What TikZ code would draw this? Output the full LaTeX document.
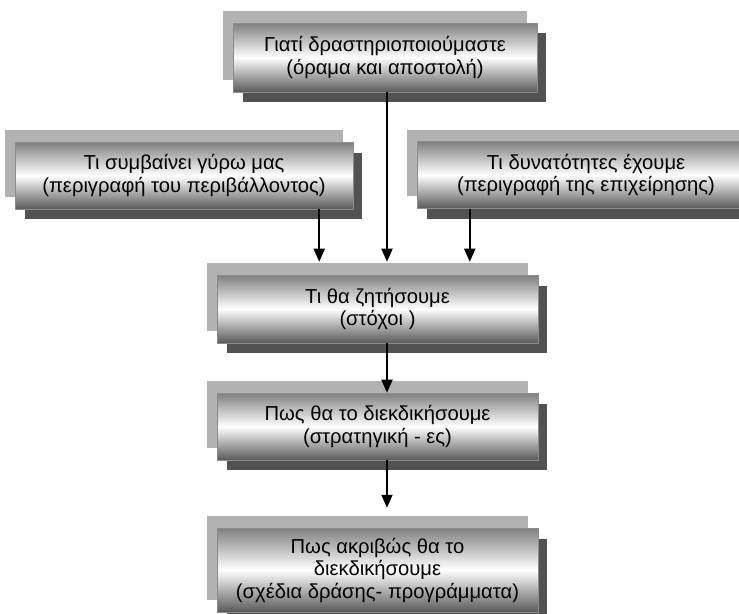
\documentclass[tikz,border=0pt]{standalone}
\usepackage{fontspec}
\setmainfont{Liberation Sans}
\usetikzlibrary{arrows.meta}
\usetikzlibrary{calc}
\usetikzlibrary{shadows}

\begin{document}
\begin{tikzpicture}[x=0.02cm, y=-0.02cm,
        box/.style={draw=black!45, line width=0.3pt,
            top color=black!50, bottom color=black!65, middle color=white,
            align=center, inner sep=0pt, font=\fontsize{11.5}{12.8}\selectfont,
            general shadow={fill=black!30, shadow xshift=-0.2cm, shadow yshift=0.24cm},
            general shadow={fill=black!68, shadow xshift=0.19cm, shadow yshift=-0.21cm}},
        arr/.style={line width=1pt, -{Triangle[width=0.22cm, length=0.26cm]}}]
                % Define the frame of the picture
                \clip (0,0) rectangle (739,614);

                % Draw the boxes
                \node[box, minimum width=6.08cm, minimum height=1.38cm] (why) at (385,57.5)
                    {Γιατί δραστηριοποιούμαστε\\(όραμα και αποστολή)};
                \node[box, minimum width=6.76cm, minimum height=1.34cm] (env) at (184,175.5)
                    {Τι συμβαίνει γύρω μας\\(περιγραφή του περιβάλλοντος)};
                \node[box, minimum width=6.76cm, minimum height=1.34cm] (firm) at (586,175)
                    {Τι δυνατότητες έχουμε\\(περιγραφή της επιχείρησης)};
                \node[box, minimum width=6.42cm, minimum height=1.36cm] (goals) at (377.5,309)
                    {Τι θα ζητήσουμε\\(στόχοι )};
                \node[box, minimum width=6.42cm, minimum height=1.34cm] (strat) at (377.5,426.5)
                    {Πως θα το διεκδικήσουμε\\(στρατηγική - ες)};
                \node[box, minimum width=6.42cm, minimum height=1.68cm] (plans) at (377.5,570)
                    {Πως ακριβώς θα το\\διεκδικήσουμε\\(σχέδια δράσης- προγράμματα)};

                % Draw the arrows
                \draw[arr] ($(why.south)+(2,0)$) -- ($(why.south |- goals.north)+(2,-13)$);
                \draw[arr] ($(env.south east)+(-34,0)$) -- ($(env.south east |- goals.north)+(-34,-13)$);
                \draw[arr] ($(firm.south west)+(53,0)$) -- ($(firm.south west |- goals.north)+(53,-13)$);
                \draw[arr] ($(goals.south)+(9.5,0)$) -- ($(strat.north)+(9.5,0)$);
                \draw[arr] ($(strat.south)+(9.5,0)$) -- ($(plans.north)+(9.5,-20)$);
\end{tikzpicture}
\end{document}
